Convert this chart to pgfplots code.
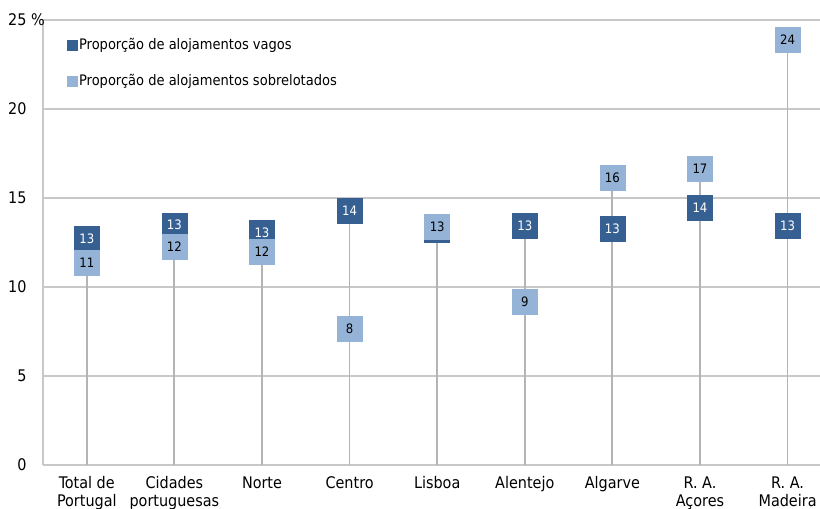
\documentclass[border=0pt]{standalone}
\usepackage{pgfplots}
\usepackage{pgfplotstable}
\pgfplotsset{compat=1.18}
\usepackage{fontspec}
\setmainfont{DejaVu Sans Condensed}
\definecolor{dk}{HTML}{376092}
\definecolor{lt}{HTML}{95B3D7}
\definecolor{gridc}{HTML}{C8C8C8}
\definecolor{dropc}{HTML}{B4B4B4}

\pgfplotstableread{
x vagos sobre top lv ls
0 12.69 11.36 12.69 13 11
1 13.47 12.26 13.47 13 12
2 13.06 11.97 13.06 13 12
3 14.29 7.65 14.29 14 8
4 13.23 13.37 13.37 {} 13
5 13.43 9.19 13.43 13 9
6 13.27 16.13 16.13 13 16
7 14.45 16.64 16.64 14 17
8 13.43 23.89 23.89 13 24
}\data

\begin{document}
\begin{tikzpicture}
\begin{axis}[
  scale only axis, width=777pt, height=445pt,
  xmin=-0.5, xmax=8.37, ymin=0, ymax=25,
  ytick={0,5,...,25}, yticklabels={0,5,10,15,20,{25\rlap{ \%}}},
  xtick={0,...,8},
  xticklabels={{Total de\\Portugal},{Cidades\\portuguesas},Norte,Centro,Lisboa,Alentejo,Algarve,{R. A.\\Açores},{R. A.\\Madeira}},
  major tick length=0pt,
  ymajorgrids, grid style={gridc, line width=1.6pt},
  axis x line*=bottom, axis y line*=left,
  axis line style={gridc, line width=1.6pt, -},
  tick label style={font=\fontsize{16}{18}\selectfont, text=black},
  yticklabel style={anchor=east, xshift=-13pt},
  xticklabel style={align=center, anchor=north, yshift=-8pt},
  legend style={at={(rel axis cs:0,1)}, anchor=north west, xshift=24pt, yshift=-17pt,
    draw=none, fill=none, font=\fontsize{14.5}{17}\selectfont, row sep=20pt,
    inner sep=0pt, nodes={inner sep=1.5pt}},
  legend cell align=left,
  clip=false,
]
\coordinate (sw) at (rel axis cs:0,0);
\coordinate (ne) at (rel axis cs:1,1);
\addplot[ycomb, dropc, line width=1.8pt, forget plot] table[x=x,y=top]{\data};
\addplot[only marks, mark=square*, mark size=12.5pt, color=dk,
  mark options={fill=dk, draw=none},
  legend image code/.code={\fill[dk] (0pt,-5pt) rectangle (10pt,5pt);},
  point meta=explicit symbolic,
  nodes near coords={\fontsize{13}{15}\selectfont\pgfplotspointmeta},
  every node near coord/.append style={anchor=center, text=white}]
  table[x=x,y=vagos,meta=lv]{\data};
\addlegendentry{Proporção de alojamentos vagos}
\addplot[only marks, mark=square*, mark size=12.5pt, color=lt,
  mark options={fill=lt, draw=none},
  legend image code/.code={\fill[lt] (0pt,-5pt) rectangle (10pt,5pt);},
  point meta=explicit symbolic,
  nodes near coords={\fontsize{13}{15}\selectfont\pgfplotspointmeta},
  every node near coord/.append style={anchor=center, text=black}]
  table[x=x,y=sobre,meta=ls]{\data};
\addlegendentry{Proporção de alojamentos sobrelotados}
\end{axis}
\pgfresetboundingbox
\path ([shift={(-43pt,-44pt)}]sw) rectangle ([shift={(0pt,20pt)}]ne);
\end{tikzpicture}
\end{document}
